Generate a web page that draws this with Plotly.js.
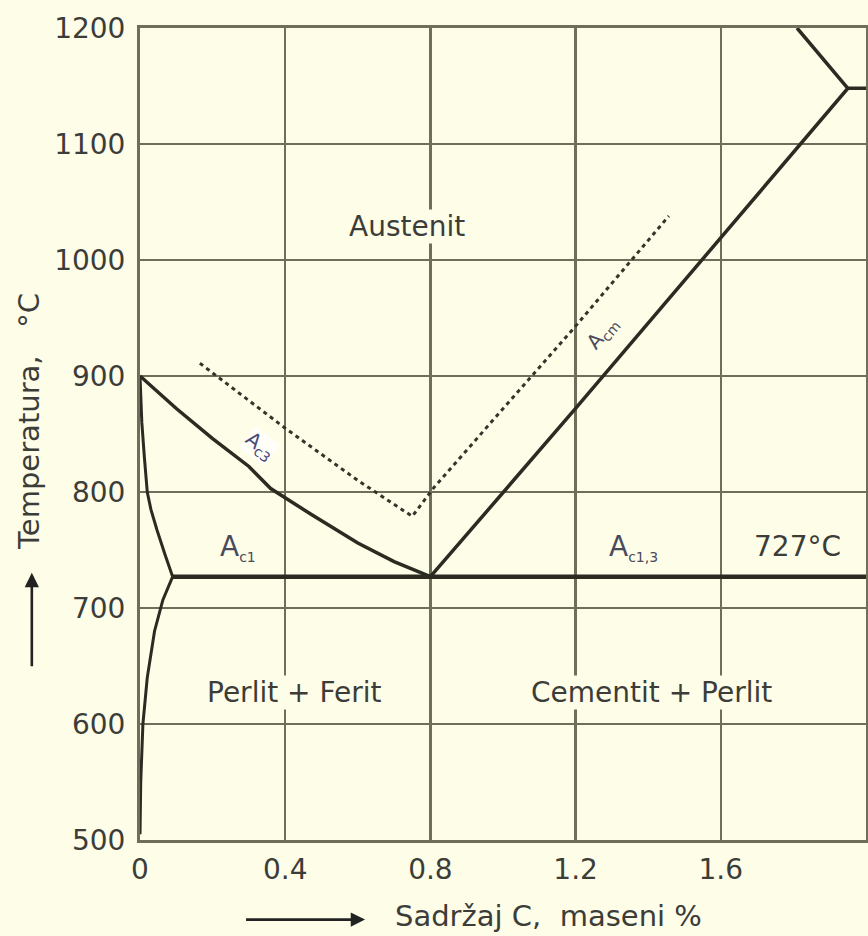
<!DOCTYPE html>
<html>
<head>
<meta charset="utf-8">
<script src="https://cdn.plot.ly/plotly-3.0.1.min.js"></script>
<style>
html,body{margin:0;padding:0;background:#fdfde8;}
#chart{width:868px;height:936px;}
</style>
</head>
<body>
<div id="chart"></div>
<script>
// ---- data ----
const xTickVals = [0, 0.4, 0.8, 1.2, 1.6];
const xTickText = ["0", "0.4", "0.8", "1.2", "1.6"];
const yTickVals = [500, 600, 700, 800, 900, 1000, 1100, 1200];

// A3 line (solid), from 900 °C at 0 % to eutectoid point
const a3X = [0, 0.1, 0.2, 0.3, 0.36, 0.47, 0.6, 0.7, 0.8];
const a3Y = [900, 872, 846, 822, 803, 781, 756, 740, 727];

// ferrite solvus (upper part, from 900 °C down to 727 °C)
const ferUpX = [0, 0.005, 0.012, 0.02, 0.03, 0.047, 0.07, 0.09];
const ferUpY = [900, 860, 830, 800, 785, 767, 745, 727];

// ferrite solvus below 727 °C
const ferLowX = [0.09, 0.063, 0.04, 0.02, 0.008, 0.002, 0];
const ferLowY = [727, 707, 680, 640, 600, 550, 505];

// eutectoid line 727 °C
const eutX = [0.09, 2.0];
const eutY = [727, 727];

// Acm line (solid)
const acmX = [0.8, 1.2, 1.95, 2.0];
const acmY = [727, 872, 1148, 1148];

// fragment in upper right corner
const topX = [1.81, 1.95];
const topY = [1200, 1148];

// dashed curve
const dashX = [0.165, 0.4, 0.6, 0.75, 0.81, 1.2, 1.457];
const dashY = [911, 855, 810, 779, 804, 943, 1038];

// ---- styles ----
const bg = '#fdfde8';
const gridC = '#6e6e5a';
const curveC = '#2b2b22';
const textC = '#3c3c38';
const font = 'DejaVu Sans, Verdana, sans-serif';
const fs = 28;

function line(x, y, w, dash) {
  return {x: x, y: y, type: 'scatter', mode: 'lines',
    line: {color: curveC, width: w, dash: dash || 'solid'},
    hoverinfo: 'skip', showlegend: false};
}

const traces = [
  line(a3X, a3Y, 3.5),
  line(ferUpX, ferUpY, 3),
  line(ferLowX, ferLowY, 3),
  line(eutX, eutY, 4.5),
  line(acmX, acmY, 3.5),
  line(topX, topY, 3.5),
  {x: dashX, y: dashY, type: 'scatter', mode: 'lines',
   line: {color: '#34342a', width: 3, dash: '4px,4px'},
   hoverinfo: 'skip', showlegend: false}
];

function lab(text, x, y, opt) {
  return Object.assign({text: text, x: x, y: y, xref: 'x', yref: 'y',
    showarrow: false, font: {family: font, size: fs, color: textC},
    bgcolor: bg, borderpad: 0}, opt || {});
}
const sub = s => '<sub><span style="font-size:14px">' + s + '</span></sub>';

const annotations = [
  lab('Austenit', 0.735, 1029),
  lab('Perlit + Ferit', 0.425, 627),
  lab('Cementit + Perlit', 1.41, 627),
  lab('A' + sub('c1'), 0.27, 752, {font: {family: font, size: fs, color: '#4a4a5c'}}),
  lab('A' + sub('c1,3'), 1.36, 752, {font: {family: font, size: fs, color: '#4a4a5c'}}),
  lab('727°C', 1.81, 753),
  lab('A<sub>c3</sub>', 0.33, 840, {textangle: 38, bgcolor: 'rgba(255,255,255,0.7)',
      font: {family: font, size: 20, color: '#4a4a78'}}),
  lab('A<sub>cm</sub>', 1.275, 937, {textangle: -50, bgcolor: 'rgba(0,0,0,0)',
      font: {family: font, size: 20, color: '#4a4a5c'}}),
  // axis titles
  {text: 'Temperatura,   °C', xref: 'paper', yref: 'paper', x: -0.153, y: 0.516,
   xanchor: 'center', yanchor: 'middle',
   showarrow: false, textangle: -90, font: {family: font, size: 29, color: textC}},
  {text: ' ', xref: 'paper', yref: 'paper', x: -0.149, y: 0.329, ax: 0, ay: 102,
   showarrow: true, arrowhead: 2, arrowsize: 1.1, arrowwidth: 2.6, arrowcolor: '#222',
   font: {size: 10}},
  {text: 'Sadržaj C,  maseni %', xref: 'paper', yref: 'paper', x: 0.563, y: -0.094,
   xanchor: 'center', yanchor: 'middle',
   showarrow: false, font: {family: font, size: 29, color: textC}},
  {text: ' ', xref: 'paper', yref: 'paper', x: 0.31, y: -0.098, ax: -122, ay: 0,
   showarrow: true, arrowhead: 2, arrowsize: 1.1, arrowwidth: 2.6, arrowcolor: '#222',
   font: {size: 10}}
];

const layout = {
  width: 868, height: 936,
  margin: {l: 140, r: 2, t: 28, b: 96},
  paper_bgcolor: bg, plot_bgcolor: bg,
  showlegend: false,
  xaxis: {range: [0, 2.0], tickvals: xTickVals, ticktext: xTickText,
    showgrid: true, gridcolor: gridC, gridwidth: 2.5, zeroline: false,
    showline: true, mirror: true, linecolor: gridC, linewidth: 3,
    ticks: '', ticklabelstandoff: 2,
    tickfont: {family: font, size: fs, color: textC}, fixedrange: true},
  yaxis: {range: [500, 1200], tickvals: yTickVals,
    showgrid: true, gridcolor: gridC, gridwidth: 2.5, zeroline: false,
    showline: true, mirror: true, linecolor: gridC, linewidth: 3,
    ticks: '', ticklabelstandoff: 6,
    tickfont: {family: font, size: fs, color: textC}, fixedrange: true},
  annotations: annotations
};

Plotly.newPlot('chart', traces, layout, {staticPlot: true});
</script>
</body>
</html>
